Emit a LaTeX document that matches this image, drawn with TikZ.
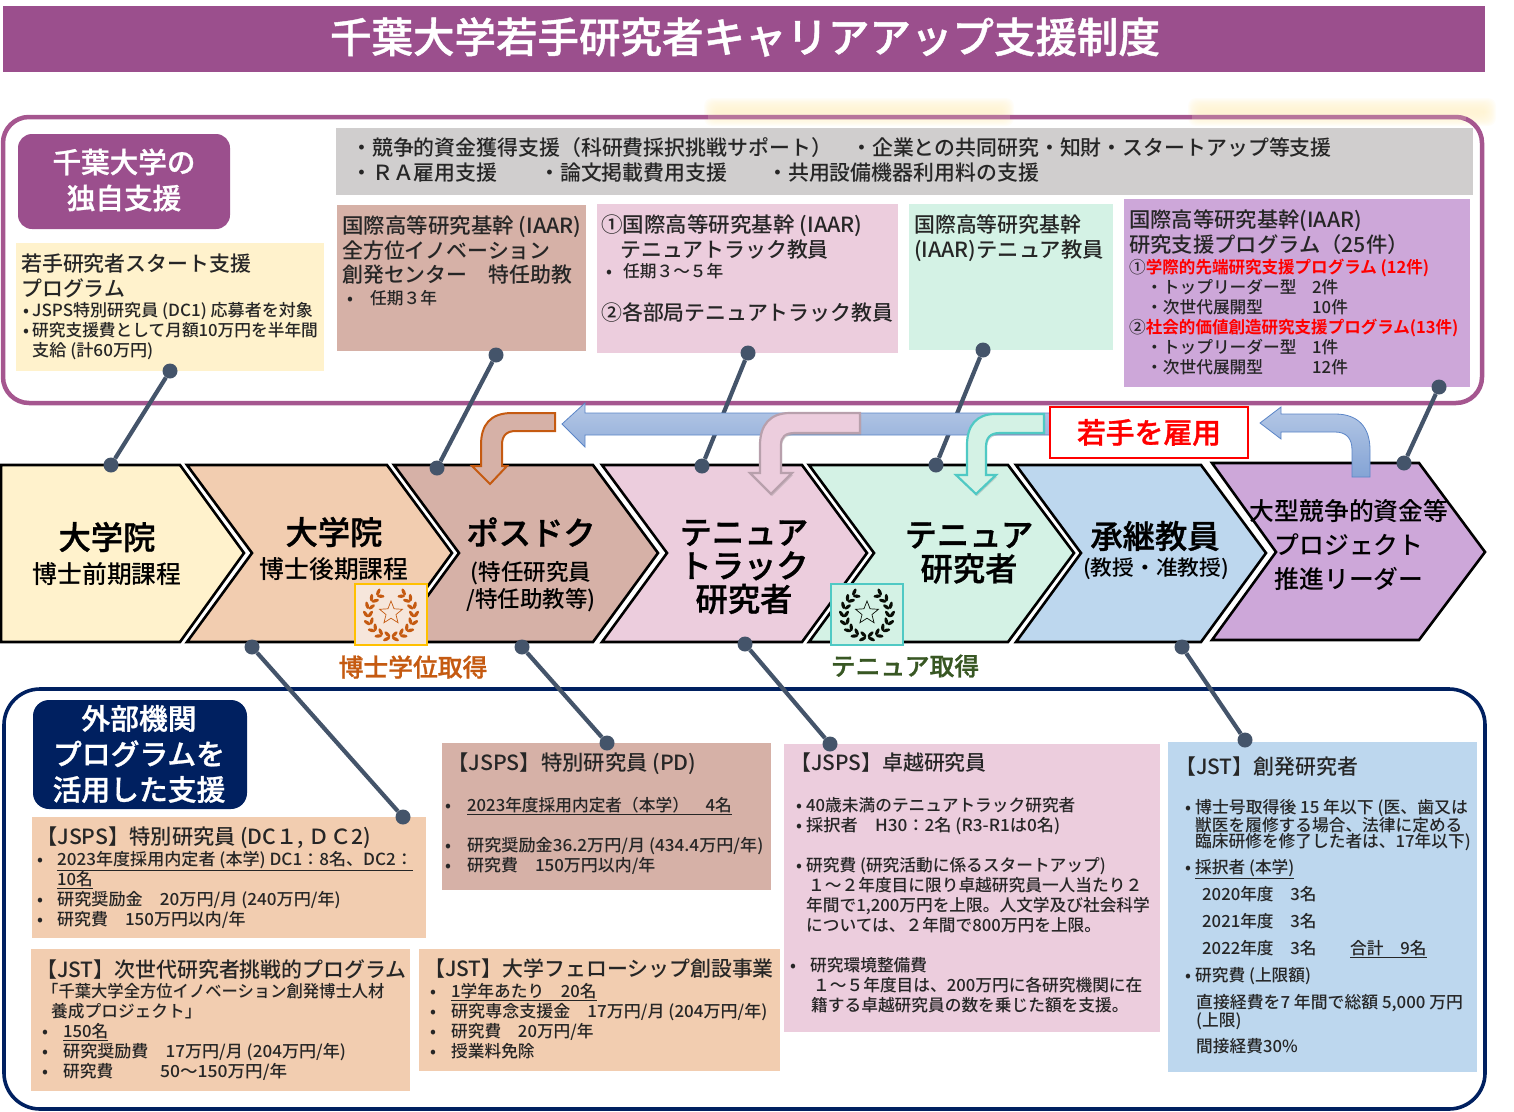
\documentclass[tikz,border=0pt]{standalone}
\usepackage{fontspec}
\setmainfont{Noto Sans CJK JP Medium}[BoldFont={Noto Sans CJK JP Bold}]
\newfontfamily\semibf[FakeBold=1]{Noto Sans CJK JP Medium}
\usepackage{tikz}
\usetikzlibrary{shapes.geometric, shadows, positioning}

\definecolor{titlepur}{HTML}{9B4F8D}
\definecolor{framepur}{HTML}{A5568F}
\definecolor{navy}{HTML}{002060}
\definecolor{barcol}{HTML}{D0CECE}
\definecolor{cream}{HTML}{FFF2CC}
\definecolor{peach}{HTML}{F2CDB0}
\definecolor{rose}{HTML}{D6B1A7}
\definecolor{pinkc}{HTML}{ECCDDD}
\definecolor{mint}{HTML}{D4F2E5}
\definecolor{sky}{HTML}{BDD7EE}
\definecolor{viol}{HTML}{CDA7D9}
\definecolor{slate}{HTML}{44546A}
\definecolor{ink}{HTML}{262626}
\definecolor{burnt}{HTML}{C55A11}
\definecolor{gold}{HTML}{FFC000}
\definecolor{teal1}{HTML}{4FC9C4}
\definecolor{fern}{HTML}{385723}
\definecolor{arrowline}{HTML}{5B85C7}

\newcommand{\bl}[1]{\makebox[#1pt][l]{•}}
\newcommand{\red}[1]{\textcolor{red}{\bfseries #1}}
\newcommand{\xs}[2]{\scalebox{#1}[1]{#2}}

% laurel around a star: x, y, colour
\newcommand{\wreath}[3]{
    \foreach \a in {10,30,...,150} {
        \fill[#3, shift={({#1-(23+2.4)*sin(\a)},{#2+(23+2.4)*cos(\a)})}, rotate={215-\a}] (0,0) ellipse[x radius=3.8, y radius=1.7];
        \fill[#3, shift={({#1-(23-2.4)*sin(\a)},{#2+(23-2.4)*cos(\a)})}, rotate={145-\a}] (0,0) ellipse[x radius=3.8, y radius=1.7];
        \fill[#3, shift={({#1+(23+2.4)*sin(\a)},{#2+(23+2.4)*cos(\a)})}, rotate={\a-35}] (0,0) ellipse[x radius=3.8, y radius=1.7];
        \fill[#3, shift={({#1+(23-2.4)*sin(\a)},{#2+(23-2.4)*cos(\a)})}, rotate={\a+35}] (0,0) ellipse[x radius=3.8, y radius=1.7];
    }
}

% soft yellow band
\newcommand{\glowband}[4]{
    \foreach \g in {12,11,...,0} {
        \fill[cream, opacity=0.13, rounded corners=8pt] ({#1-\g},{#2-\g}) rectangle ({#3+\g},{#4+\g});
    }
}

\begin{document}
\begin{tikzpicture}[
            x=1pt, y=-1pt,
            every node/.style={inner sep=0pt, align=left, text=ink},
            tl/.style={anchor=north west},
            ml/.style={anchor=west},
            fsS/.style={font=\fontsize{16.7}{20}\selectfont},
            fsSb/.style={font=\fontsize{16.7}{16}\selectfont},
            fsM/.style={font=\fontsize{20.9}{24.5}\selectfont},
            fsC/.style={font=\fontsize{24.8}{30}\selectfont},
            fsH/.style={font=\fontsize{24.8}{30}\selectfont\semibf},
            fsB/.style={font=\fontsize{32.3}{34}\selectfont\semibf, text=black},
            chev/.style={draw=black, line width=2.6pt, miter limit=6},
            leader/.style={draw=slate, line width=4.2pt},
            dotpin/.style={circle, fill=slate, minimum size=15pt}
        ]
    \useasboundingbox (0,0) rectangle (1514,1111);

    % title
    \fill[titlepur] (3,6) rectangle (1485,72);
    \node[font=\fontsize{41.5}{44}\selectfont\semibf, text=white] (title) at (745,37) {千葉大学若手研究者キャリアアップ支援制度};

    % upper frame
    \glowband{716}{110}{1002}{114}
    \glowband{1200}{110}{1484}{114}
    \draw[framepur, line width=4.5pt, rounded corners=26pt] (3,117) rectangle (1482,403);
    \fill[cream, opacity=0.2] (708,114.5) rectangle (1010,119.5);
    \fill[cream, opacity=0.2] (1192,114.5) rectangle (1466,119.5);

    \fill[titlepur, rounded corners=14pt] (18,134) rectangle (230,229);
    \node[font=\fontsize{28.6}{36}\selectfont\semibf, text=white, align=center] (ownsup) at (124,180) {千葉大学の\\独自支援};

    \fill[barcol] (336,128) rectangle (1473,195);
    \node[fsM, ml] (bar1) at (351,148) {・競争的資金獲得支援（科研費採択挑戦サポート）};
    \node[fsM, ml] (bar2) at (851,148) {・企業との共同研究・知財・スタートアップ等支援};
    \node[fsM, ml] (bar3) at (351,173) {・ＲＡ雇用支援};
    \node[fsM, ml] (bar4) at (539,173) {・論文掲載費用支援};
    \node[fsM, ml] (bar5) at (767,173) {・共用設備機器利用料の支援};

    \fill[cream] (16,243) rectangle (324,371);
    \node[fsM, tl] (starttitle) at (21,254) {若手研究者スタート支援\\プログラム};
    \node[fsS, tl] (startbody) at (23,302) {\bl{9}\xs{1.02}{JSPS特別研究員 (DC1) 応募者を対象}\\\bl{9}研究支援費として月額10万円を半年間\\\hspace*{9pt}\xs{1.025}{支給 (計60万円)}};

    \fill[rose] (337,205) rectangle (586,351);
    \node[fsM, tl] (iaarpd) at (342,216) {\xs{1.028}{国際高等研究基幹 (IAAR)}\\全方位イノベーション\\創発センター　特任助教};
    \node[fsS, tl] (iaarpdt) at (347,290) {\bl{23}任期３年};

    \fill[pinkc] (597,204) rectangle (898,353);
    \node[fsM, tl] (iaartt) at (601,215) {\xs{1.03}{①国際高等研究基幹 (IAAR)}\\\hspace*{19pt}テニュアトラック教員};
    \node[fsS, tl] (iaartt2) at (606,263) {\bl{17}任期３～５年};
    \node[fsM, tl] (iaartt3) at (601,302) {②各部局テニュアトラック教員};

    \fill[mint] (909,204) rectangle (1113,350);
    \node[fsM, tl] (iaarten) at (914,215) {国際高等研究基幹\\\xs{1.02}{(IAAR)テニュア教員}};

    \fill[viol] (1124,199) rectangle (1470,387);
    \node[fsM, tl] (iaarpg) at (1129,210) {\xs{1.02}{国際高等研究基幹(IAAR)}\\\xs{1.02}{研究支援プログラム（25件）}};
    \node[fsS, tl] (iaarpg2) at (1129,259) {①\red{\xs{.99}{学際的先端研究支援プログラム (12件)}}\\
        \hspace*{17pt}\makebox[166pt][l]{・トップリーダー型}2件\\
        \hspace*{17pt}\makebox[166pt][l]{・次世代展開型}10件\\
        ②\red{\xs{.99}{社会的価値創造研究支援プログラム(13件)}}\\
        \hspace*{17pt}\makebox[166pt][l]{・トップリーダー型}1件\\
        \hspace*{17pt}\makebox[166pt][l]{・次世代展開型}12件};

    % lower frame
    \draw[navy, line width=3.6pt, rounded corners=36pt] (4,689) rectangle (1485,1109);
    \fill[navy, rounded corners=16pt] (33,700) rectangle (247,809);
    \node[font=\fontsize{28.8}{35.5}\selectfont\semibf, text=white, align=center] (extsup) at (139,754) {外部機関\\プログラムを\\活用した支援};

    \fill[peach] (32,817) rectangle (426,938);
    \node[fsM, tl] (dctitle) at (36,827) {\xs{1.015}{【JSPS】特別研究員 (DC１, ＤＣ2)}};
    \node[fsS, tl] (dcbody) at (37,851) {\bl{20}\xs{1.022}{\underline{2023年度採用内定者 (本学) DC1：8名、DC2：}}\\\hspace*{20pt}\underline{10名}\\\bl{20}\xs{1.025}{研究奨励金　20万円/月 (240万円/年)}\\\bl{20}\xs{1.016}{研究費　150万円以内/年}};

    \fill[peach] (31,949) rectangle (410,1091);
    \node[fsM, tl] (nxtitle) at (36,959) {【JST】次世代研究者挑戦的プログラム};
    \node[fsS, tl] (nxbody) at (42,983) {\xs{.977}{「千葉大学全方位イノベーション創発博士人材}\\\hspace*{9pt}養成プロジェクト」\\\bl{21}\underline{150名}\\\bl{21}\xs{1.022}{研究奨励費　17万円/月 (204万円/年)}\\\bl{21}\makebox[97pt][l]{研究費}\xs{1.05}{50～150万円/年}};

    \fill[rose] (442,743) rectangle (771,890);
    \node[fsM, tl] (pdtitle) at (447,753) {\xs{1.02}{【JSPS】特別研究員 (PD)}};
    \node[fsS, tl] (pdbody) at (445,797) {\bl{22}\underline{2023年度採用内定者（本学）　4名}\\[20pt]\bl{22}\xs{1.025}{研究奨励金36.2万円/月 (434.4万円/年)}\\\bl{22}\xs{1.015}{研究費　150万円以内/年}};

    \fill[peach] (419,949) rectangle (780,1071);
    \node[fsM, tl] (flwtitle) at (424,959) {【JST】大学フェローシップ創設事業};
    \node[fsS, tl] (flwbody) at (430,983) {\bl{21}\underline{1学年あたり　20名}\\\bl{21}\xs{1.02}{研究専念支援金　17万円/月 (204万円/年)}\\\bl{21}研究費　20万円/年\\\bl{21}授業料免除};

    \fill[pinkc] (784,744) rectangle (1160,1032);
    \node[fsM, tl] (extitle) at (790,753) {【JSPS】卓越研究員};
    \node[fsS, tl] (exbody) at (796,797) {\bl{10}40歳未満のテニュアトラック研究者\\\bl{10}\xs{1.03}{採択者　H30：2名 (R3-R1は0名)}\\[20pt]\bl{10}研究費 (研究活動に係るスタートアップ)\\\hspace*{12pt}１～２年度目に限り卓越研究員一人当たり２\\\hspace*{10pt}年間で1,200万円を上限。人文学及び社会科学\\\hspace*{10pt}については、２年間で800万円を上限。};
    \node[fsS, tl] (exbody2) at (790,957) {\bl{20}研究環境整備費\\\hspace*{23pt}１～５年度目は、200万円に各研究機関に在\\\hspace*{21pt}籍する卓越研究員の数を乗じた額を支援。};

    \fill[sky] (1168,742) rectangle (1477,1072);
    \node[fsM, tl] (crtitle) at (1175,757) {【JST】創発研究者};
    \node[fsSb, tl] (crb1) at (1185,799) {\bl{10}\xs{1.01}{博士号取得後 15 年以下 (医、歯又は}\\\hspace*{10pt}獣医を履修する場合、法律に定める\\\hspace*{10pt}臨床研修を修了した者は、17年以下)};
    \node[fsS, tl] (crb2) at (1185,859) {\bl{10}\underline{採択者 (本学)}};
    \node[fsS, tl] (crb3) at (1202,886) {2020年度　3名};
    \node[fsS, tl] (crb4) at (1202,913) {2021年度　3名};
    \node[fsS, tl] (crb5) at (1202,940) {2022年度　3名};
    \node[fsS, tl] (crb6) at (1350,940) {\underline{合計　9名}};
    \node[fsS, tl] (crb7) at (1185,967) {\bl{10}研究費 (上限額)};
    \node[fsSb, tl] (crb8) at (1196,994) {\xs{1.01}{直接経費を7 年間で総額 5,000 万円}\\(上限)};
    \node[fsS, tl] (crb9) at (1196,1038) {間接経費30\%};

    % career chevrons
    \draw[chev, fill=cream] (1,465) -- (180,465) -- (244,553) -- (180,642) -- (1,642) -- cycle;
    \draw[chev, fill=peach] (187,465) -- (387,465) -- (452,553) -- (387,642) -- (187,642) -- (252,553) -- cycle;
    \draw[chev, fill=rose] (394,465) -- (593,465) -- (658,553) -- (593,642) -- (394,642) -- (459,553) -- cycle;
    \draw[chev, fill=pinkc] (602,465) -- (802,465) -- (867,553) -- (802,642) -- (602,642) -- (667,553) -- cycle;
    \draw[chev, fill=mint] (809,465) -- (1008,465) -- (1074,553) -- (1008,642) -- (809,642) -- (874,553) -- cycle;
    \draw[chev, fill=sky] (1016,465) -- (1201,465) -- (1266,553) -- (1201,642) -- (1016,642) -- (1081,553) -- cycle;
    \draw[chev, fill=viol] (1212,463) -- (1419,463) -- (1485,552) -- (1419,640) -- (1212,640) -- (1276,552) -- cycle;

    \node[fsB] (grad1) at (107,537) {大学院};
    \node[fsC, text=black] (grad1s) at (107,574) {博士前期課程};
    \node[fsB] (grad2) at (334,532) {大学院};
    \node[fsC, text=black] (grad2s) at (334,569) {博士後期課程};
    \node[fsB] (postdoc) at (531,532) {ポスドク};
    \node[font=\fontsize{22.5}{27}\selectfont, align=center, text=black] (postdocs) at (531,586.5) {(特任研究員\\/特任助教等)};
    \node[fsB, align=center, font=\fontsize{32.3}{33.5}\selectfont\semibf] (ttr) at (744,567) {テニュア\\トラック\\研究者};
    \node[fsB, align=center, font=\fontsize{32.3}{34}\selectfont\semibf] (ten) at (969,553) {テニュア\\研究者};
    \node[fsB] (cont) at (1155,536) {承継教員};
    \node[font=\fontsize{20.9}{24}\selectfont, text=black] (conts) at (1156,569) {\xs{1.04}{(教授・准教授)}};
    \node[fsC, align=center, font=\fontsize{24.8}{34}\selectfont, text=black] (lead) at (1349,545) {大型競争的資金等\\プロジェクト\\推進リーダー};

    % medals
    \draw[draw=gold, line width=2pt, fill=burnt!15!white] (355,584) rectangle (427,645);
    \wreath{391}{614}{burnt}
    \node[star, star points=5, star point ratio=2.3, draw=burnt, line width=0.7pt, minimum size=24pt] (star1) at (391,613) {};
    \draw[draw=teal1, line width=2pt, fill=mint] (831,584) rectangle (903,645);
    \wreath{867}{614}{black!85!fern}
    \node[star, star points=5, star point ratio=2.3, draw=black!85!fern, line width=0.7pt, minimum size=24pt] (star2) at (867,613) {};
    \node[fsH, text=burnt] (phd) at (413,667) {博士学位取得};
    \node[fsH, text=fern] (tengot) at (905,666) {テニュア取得};

    % leader pins
    \node[dotpin] (p1a) at (170,371) {};
    \node[dotpin] (p1b) at (111,465) {};
    \node[dotpin] (p2a) at (496,355) {};
    \node[dotpin] (p2b) at (437,468) {};
    \node[dotpin] (p3a) at (748,353) {};
    \node[dotpin] (p3b) at (702,466) {};
    \node[dotpin] (p4a) at (983,350) {};
    \node[dotpin] (p4b) at (936,465) {};
    \node[dotpin] (p5a) at (1439,387) {};
    \node[dotpin] (p5b) at (1404,463) {};
    \node[dotpin] (q1a) at (252,647) {};
    \node[dotpin] (q1b) at (403,817) {};
    \node[dotpin] (q2a) at (522,647) {};
    \node[dotpin] (q2b) at (607,743) {};
    \node[dotpin] (q3a) at (745,644) {};
    \node[dotpin] (q3b) at (830,744) {};
    \node[dotpin] (q4a) at (1182,647) {};
    \node[dotpin] (q4b) at (1245,740) {};
    \path[leader]
    (p1a) edge (p1b)
    (p2a) edge (p2b)
    (p3a) edge (p3b)
    (p4a) edge (p4b)
    (p5a) edge (p5b)
    (q1a) edge (q1b)
    (q2a) edge (q2b)
    (q3a) edge (q3b)
    (q4a) edge (q4b)
    ;

    % hire arrows
    \draw[draw=arrowline, line width=0.8pt, top color=arrowline!45!white, bottom color=arrowline!65!white] (1050,413) -- (585,413) -- (585,403) -- (562,424) -- (585,447) -- (585,435) -- (1050,435) -- cycle;
    \draw[draw=burnt, line width=2pt, fill=rose] (555,413) -- (512,413) .. controls (490,413) and (481,425) .. (481,445) -- (481,466) -- (472,466) -- (490,484) -- (507,466) -- (502,466) -- (502,445) .. controls (502,436) and (506,431) .. (516,431) -- (555,431) -- cycle;
    \draw[draw=pinkc!78!black, line width=2.2pt, fill=pinkc, drop shadow={shadow xshift=1pt, shadow yshift=-2pt, opacity=0.3}] (860,413) -- (790,413) .. controls (770,413) and (760,425) .. (760,445) -- (760,473) -- (750,473) -- (771,494) -- (792,473) -- (781,473) -- (781,445) .. controls (781,437) and (785,433) .. (795,433) -- (860,433) -- cycle;
    \draw[draw=teal1, line width=2.2pt, fill=mint, drop shadow={shadow xshift=1pt, shadow yshift=-2pt, opacity=0.3}] (1044,414) -- (995,414) .. controls (977,414) and (967,425) .. (967,445) -- (967,475) -- (956,475) -- (976,494) -- (996,475) -- (986,475) -- (986,447) .. controls (986,438) and (990,433) .. (1000,433) -- (1044,433) -- cycle;
    \draw[draw=arrowline, line width=0.8pt, top color=arrowline!45!white, bottom color=arrowline!75!white] (1370,477) -- (1370,450) .. controls (1370,427) and (1358,414) .. (1335,414) -- (1281,414) -- (1281,407) -- (1260,423) -- (1281,439) -- (1281,432) -- (1335,432) .. controls (1346,432) and (1352,438) .. (1352,450) -- (1352,477) -- cycle;

    \node[draw=red, line width=2pt, fill=white, minimum width=198pt, minimum height=51pt, align=center, text=red, font=\fontsize{28.8}{30}\selectfont\semibf] (hire) at (1149,432.5) {若手を雇用};
\end{tikzpicture}
\end{document}
